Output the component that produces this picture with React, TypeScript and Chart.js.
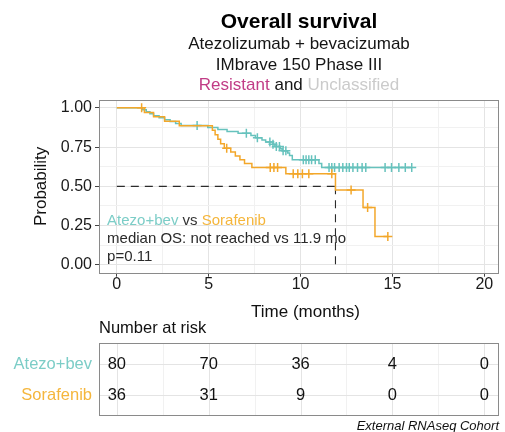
import React, { useEffect, useRef } from "react";
import { Chart, registerables } from "chart.js";

Chart.register(...registerables);

const FONT = "'Liberation Sans', Arial, Helvetica, sans-serif";

// ---------- text ----------
const titleText = "Overall survival";
const subtitleLines = ["Atezolizumab + bevacizumab", "IMbrave 150 Phase III"];
const subgroupParts = ["Resistant", " and ", "Unclassified"];
const subgroupColors = ["#c13c86", "#151515", "#cbcbcb"];
const seriesNames = ["Atezo+bev", "Sorafenib"];
const lineColors = ["#66c2bd", "#f3a72a"];
const labelColors = ["#7ccdc7", "#f5b63c"];
const medianText = "median OS: not reached vs 11.9 mo";
const pText = "p=0.11";
const xTitle = "Time (months)";
const yTitle = "Probability";
const riskTitle = "Number at risk";
const footerText = "External RNAseq Cohort";

// ---------- survival data (step curves) ----------
const atezoTimes = [0, 1.4, 1.6, 1.8, 2.0, 2.3, 2.6, 2.9, 3.2, 3.5, 4.95, 5.5, 6.0, 6.6, 7.3, 7.55, 7.9, 8.1, 8.5, 8.6, 8.9, 9.0, 9.3, 9.4, 9.55, 11.0, 11.15, 16.05];
const atezoSurv = [1, 0.9875, 0.975, 0.9625, 0.95, 0.9375, 0.925, 0.9125, 0.9, 0.8875, 0.875, 0.8625, 0.85, 0.8375, 0.824, 0.81, 0.796, 0.782, 0.768, 0.754, 0.74, 0.726, 0.712, 0.697, 0.67, 0.645, 0.62, 0.62];
const atezoCensor = [4.37, 7.05, 7.65, 8.33, 8.5, 8.68, 8.85, 9.05, 9.2, 10.15, 10.3, 10.45, 10.6, 10.8, 11.55, 11.7, 11.85, 12.1, 12.3, 12.5, 12.65, 12.85, 13.1, 13.35, 13.55, 14.6, 14.95, 15.35, 15.7, 16.05];

const soraTimes = [0, 1.5, 2.0, 2.6, 3.4, 5.2, 5.35, 5.5, 5.65, 5.85, 6.2, 6.45, 6.7, 6.95, 7.35, 9.2, 11.9, 13.4, 14.05, 14.75];
const soraSurv = [1, 0.971, 0.943, 0.914, 0.886, 0.857, 0.828, 0.8, 0.771, 0.743, 0.718, 0.694, 0.669, 0.645, 0.62, 0.58, 0.477, 0.366, 0.18, 0.18];
const soraCensor = [1.35, 5.98, 8.35, 8.55, 8.75, 9.6, 9.85, 10.1, 10.45, 11.7, 12.75, 13.65, 14.75];

const medianTime = 11.9;
const medianSurv = 0.5;

// ---------- axes ----------
const xTicks = [0, 2.5, 5, 7.5, 10, 12.5, 15, 17.5, 20];
const yTicks = [0, 0.125, 0.25, 0.375, 0.5, 0.625, 0.75, 0.875, 1];

// ---------- risk table ----------
const riskTimes = [0, 5, 10, 15, 20];
const atezoRisk = [80, 70, 36, 4, 0];
const soraRisk = [36, 31, 9, 0, 0];

const isMajorX = (v: number) => Math.abs(v / 5 - Math.round(v / 5)) < 1e-9;
const isMajorY = (v: number) => Math.abs(v * 4 - Math.round(v * 4)) < 1e-9;

const toPts = (ts: number[], ss: number[]) => ts.map((t, i) => ({ x: t, y: ss[i] }));
const stepAt = (ts: number[], ss: number[], t: number) => {
  let v = ss[0];
  for (let i = 0; i < ts.length; i++) if (ts[i] <= t) v = ss[i];
  return v;
};
const censorPts = (cs: number[], ts: number[], ss: number[]) => cs.map((t) => ({ x: t, y: stepAt(ts, ss, t) }));

const MAJOR_GRID = "#e4e4e4";
const MINOR_GRID = "#f1f1f1";
const BORDER = "#8a8a8a";

function drawParts(ctx: CanvasRenderingContext2D, parts: string[], colors: string[], x: number, y: number, align: "left" | "center") {
  const widths = parts.map((p) => ctx.measureText(p).width);
  const total = widths.reduce((a, b) => a + b, 0);
  let cx = align === "center" ? x - total / 2 : x;
  ctx.textAlign = "left";
  parts.forEach((p, i) => {
    ctx.fillStyle = colors[i];
    ctx.fillText(p, cx, y);
    cx += widths[i];
  });
}

const extrasPlugin = {
  id: "kmExtras",
  beforeDatasetsDraw(chart: any) {
    const ctx: CanvasRenderingContext2D = chart.ctx;
    const xs = chart.scales.x;
    const ys = chart.scales.y;
    ctx.save();
    ctx.strokeStyle = "#2b2b2b";
    ctx.lineWidth = 1.1;
    ctx.setLineDash([8, 6]);
    ctx.beginPath();
    ctx.moveTo(xs.getPixelForValue(0), ys.getPixelForValue(medianSurv));
    ctx.lineTo(xs.getPixelForValue(medianTime), ys.getPixelForValue(medianSurv));
    ctx.stroke();
    ctx.beginPath();
    ctx.moveTo(xs.getPixelForValue(medianTime), ys.getPixelForValue(medianSurv));
    ctx.lineTo(xs.getPixelForValue(medianTime), ys.getPixelForValue(0));
    ctx.stroke();
    ctx.restore();
  },
  afterDraw(chart: any) {
    const ctx: CanvasRenderingContext2D = chart.ctx;
    const { left, right, top, bottom } = chart.chartArea;
    const xs = chart.scales.x;
    const ys = chart.scales.y;
    const cx = (left + right) / 2;
    ctx.save();

    // panel border
    ctx.strokeStyle = BORDER;
    ctx.lineWidth = 1;
    ctx.strokeRect(Math.round(left) + 0.5, Math.round(top) + 0.5, Math.round(right - left) - 1, Math.round(bottom - top));

    // titles
    ctx.textBaseline = "alphabetic";
    ctx.textAlign = "center";
    ctx.fillStyle = "#000";
    ctx.font = `bold 21px ${FONT}`;
    ctx.fillText(titleText, cx, 28);
    ctx.font = `17px ${FONT}`;
    ctx.fillStyle = "#151515";
    subtitleLines.forEach((s, i) => ctx.fillText(s, cx, 49 + i * 21));
    drawParts(ctx, subgroupParts, subgroupColors, cx, 90, "center");

    // annotation inside panel
    ctx.font = `15px ${FONT}`;
    ctx.textBaseline = "middle";
    const ax = xs.getPixelForValue(-0.53);
    const ay = ys.getPixelForValue(0.278);
    drawParts(ctx, [seriesNames[0], " vs ", seriesNames[1]], [labelColors[0], "#333333", labelColors[1]], ax, ay, "left");
    ctx.fillStyle = "#2a2a2a";
    ctx.textAlign = "left";
    ctx.fillText(medianText, ax, ay + 18);
    ctx.fillText(pText, ax, ay + 36);

    // axis titles
    ctx.fillStyle = "#111";
    ctx.font = `17px ${FONT}`;
    ctx.textAlign = "center";
    ctx.fillText(xTitle, cx + 6.5, 312.5);
    ctx.save();
    ctx.translate(41, (top + bottom) / 2);
    ctx.rotate(-Math.PI / 2);
    ctx.fillText(yTitle, 0, 0);
    ctx.restore();

    // risk table
    const tTop = 343;
    const tBot = 415;
    const rowY = [364, 395];
    ctx.lineWidth = 1;
    xTicks.forEach((v) => {
      const px = Math.round(xs.getPixelForValue(v)) + 0.5;
      ctx.strokeStyle = isMajorX(v) ? MAJOR_GRID : MINOR_GRID;
      ctx.beginPath();
      ctx.moveTo(px, tTop);
      ctx.lineTo(px, tBot);
      ctx.stroke();
    });
    rowY.forEach((ry) => {
      ctx.strokeStyle = MAJOR_GRID;
      ctx.beginPath();
      ctx.moveTo(left, Math.round(ry) + 0.5);
      ctx.lineTo(right, Math.round(ry) + 0.5);
      ctx.stroke();
    });
    ctx.strokeStyle = BORDER;
    ctx.strokeRect(Math.round(left) + 0.5, tTop + 0.5, Math.round(right - left) - 1, tBot - tTop);

    ctx.font = `16.5px ${FONT}`;
    ctx.textAlign = "left";
    ctx.fillStyle = "#111";
    ctx.fillText(riskTitle, Math.round(left), 328);

    const rows = [atezoRisk, soraRisk];
    rows.forEach((vals, r) => {
      const ry = rowY[r];
      ctx.textAlign = "center";
      ctx.fillStyle = "#111";
      vals.forEach((n, i) => {
        ctx.fillText(String(n), xs.getPixelForValue(riskTimes[i]), ry);
      });
      ctx.textAlign = "right";
      ctx.fillStyle = labelColors[r];
      ctx.fillText(seriesNames[r], left - 7, ry);
    });

    // footer
    ctx.font = `italic 13px ${FONT}`;
    ctx.textAlign = "right";
    ctx.fillStyle = "#111";
    ctx.fillText(footerText, right, 426);

    ctx.restore();
  },
};

export default function App() {
  const ref = useRef<HTMLCanvasElement | null>(null);

  useEffect(() => {
    if (!ref.current) return;
    const chart = new Chart(ref.current, {
      type: "line",
      data: {
        datasets: [
          {
            data: censorPts(soraCensor, soraTimes, soraSurv),
            showLine: false,
            pointStyle: "cross",
            pointRadius: 4.5,
            pointBorderWidth: 1.5,
            pointBorderColor: lineColors[1],
            borderColor: lineColors[1],
            order: 0,
          },
          {
            data: toPts(soraTimes, soraSurv),
            borderColor: lineColors[1],
            borderWidth: 1.5,
            stepped: "before",
            pointRadius: 0,
            fill: false,
            order: 1,
          },
          {
            data: censorPts(atezoCensor, atezoTimes, atezoSurv),
            showLine: false,
            pointStyle: "cross",
            pointRadius: 4.5,
            pointBorderWidth: 1.5,
            pointBorderColor: lineColors[0],
            borderColor: lineColors[0],
            order: 2,
          },
          {
            data: toPts(atezoTimes, atezoSurv),
            borderColor: lineColors[0],
            borderWidth: 1.5,
            stepped: "before",
            pointRadius: 0,
            fill: false,
            order: 3,
          },
        ] as any,
      },
      options: {
        responsive: false,
        animation: false,
        devicePixelRatio: 1,
        layout: { padding: { left: 0, right: 2, top: 100, bottom: 119.3 } },
        plugins: { legend: { display: false }, tooltip: { enabled: false } },
        scales: {
          x: {
            type: "linear",
            min: -0.97,
            max: 20.8,
            afterBuildTicks: (s: any) => {
              s.ticks = xTicks.map((v) => ({ value: v }));
            },
            afterFit: (s: any) => {
              s.height = 40;
            },
            border: { display: false },
            grid: {
              color: (c: any) => (isMajorX(c.tick.value) ? MAJOR_GRID : MINOR_GRID),
              lineWidth: 1,
              tickLength: 4,
              tickColor: (c: any) => (isMajorX(c.tick.value) ? "#444" : "rgba(0,0,0,0)"),
            },
            ticks: {
              autoSkip: false,
              maxRotation: 0,
              padding: 0,
              color: "#1a1a1a",
              font: { family: FONT, size: 16, lineHeight: 1 },
              callback: (v: any) => (isMajorX(Number(v)) ? String(v) : ""),
            },
          },
          y: {
            type: "linear",
            min: -0.05,
            max: 1.05,
            afterBuildTicks: (s: any) => {
              s.ticks = yTicks.map((v) => ({ value: v }));
            },
            afterFit: (s: any) => {
              s.width = 99;
            },
            border: { display: false },
            grid: {
              color: (c: any) => (isMajorY(c.tick.value) ? MAJOR_GRID : MINOR_GRID),
              lineWidth: 1,
              tickLength: 4,
              tickColor: (c: any) => (isMajorY(c.tick.value) ? "#444" : "rgba(0,0,0,0)"),
            },
            ticks: {
              autoSkip: false,
              padding: 3,
              color: "#1a1a1a",
              font: { family: FONT, size: 16, lineHeight: 1 },
              callback: (v: any) => (isMajorY(Number(v)) ? Number(v).toFixed(2) : ""),
            },
          },
        },
      } as any,
      plugins: [extrasPlugin],
    });
    return () => chart.destroy();
  }, []);

  return (
    <div style={{ position: "absolute", left: 0, top: 0, width: 505, height: 432, background: "#fff" }}>
      <canvas ref={ref} width={505} height={432} style={{ display: "block", width: 505, height: 432 }} />
    </div>
  );
}
